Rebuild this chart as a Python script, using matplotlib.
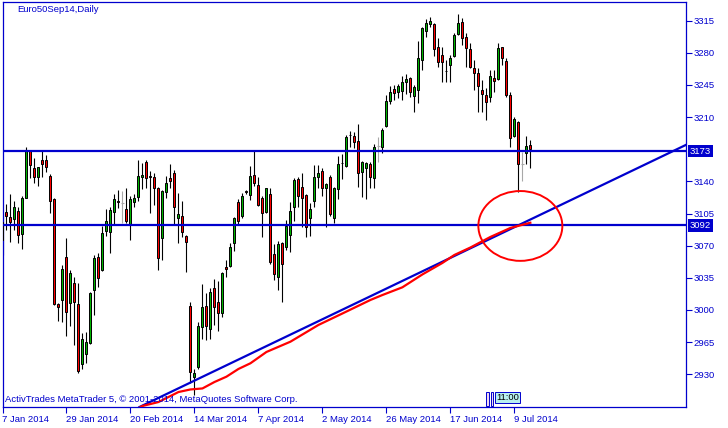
import matplotlib
matplotlib.use('Agg')
import matplotlib.pyplot as plt
import matplotlib.transforms as mtransforms
from matplotlib.patches import Ellipse, Rectangle

plt.rcParams['font.family'] = ['Liberation Sans', 'DejaVu Sans']

# daily OHLC, Euro50 Sep14
opens = [3095.8, 3107.0, 3100.9, 3098.7, 3107.8, 3082.4, 3122.3, 3173.1, 3154.3, 3145.1,
         3163.3, 3163.3, 3145.9, 3120.8, 3006.9, 3011.2, 3057.4, 3007.3, 3029.9, 3006.3,
         2940.9, 2952.1, 2963.7, 3021.8, 3057.4, 3043.6, 3086.3, 3085.2, 3107.0, 3118.3,
         3116.2, 3110.3, 3093.3, 3117.9, 3123.4, 3144.8, 3160.8, 3145.5, 3145.1, 3132.5,
         3078.1, 3128.1, 3143.4, 3148.8, 3099.8, 3102.3, 3080.2, 3004.4, 2927.4, 2937.6,
         2981.8, 3004.4, 2979.0, 3023.6, 3009.0, 2997.1, 3046.5, 3048.2, 3073.3, 3117.9,
         3102.3, 3129.6, 3125.2, 3147.0, 3136.1, 3121.6, 3106.4, 3126.0, 3061.0, 3035.6,
         3072.6, 3068.9, 3081.3, 3111.8, 3142.3, 3134.2, 3124.9, 3099.8, 3118.3, 3145.1,
         3151.3, 3132.5, 3144.5, 3099.8, 3131.4, 3160.0, 3156.8, 3190.5, 3189.1, 3184.3,
         3149.9, 3154.3, 3158.6, 3143.4, 3178.5, 3177.1, 3200.7, 3227.9, 3240.6, 3237.7,
         3238.8, 3247.9, 3252.3, 3233.3, 3239.5, 3272.2, 3304.1, 3311.4, 3311.0, 3286.0,
         3277.6, 3260.5, 3266.7, 3276.5, 3300.5, 3313.9, 3296.9, 3283.8, 3263.1, 3257.7,
         3239.5, 3234.1, 3232.2, 3252.3, 3251.2, 3286.0, 3271.1, 3234.1, 3189.4, 3205.0,
         3158.6, 3170.6, 3179.6]
highs = [3105.3, 3115.4, 3126.3, 3118.7, 3111.8, 3124.1, 3177.8, 3174.2, 3165.2, 3156.0,
         3173.1, 3168.8, 3148.1, 3121.9, 3008.0, 3049.0, 3078.7, 3043.6, 3036.3, 3029.1,
         2974.6, 2976.4, 3019.9, 3059.9, 3061.7, 3091.5, 3110.0, 3111.8, 3126.0, 3130.6,
         3129.6, 3132.5, 3124.1, 3126.0, 3163.3, 3160.4, 3163.3, 3151.3, 3149.5, 3134.0,
         3130.6, 3145.9, 3159.0, 3152.4, 3127.7, 3118.7, 3081.7, 3008.4, 2935.4, 2987.3,
         3028.3, 3018.2, 3023.6, 3033.8, 3031.6, 3041.7, 3054.4, 3072.6, 3101.6, 3120.5,
         3127.7, 3130.6, 3156.8, 3174.2, 3145.1, 3124.1, 3133.2, 3132.5, 3071.9, 3075.1,
         3074.4, 3098.0, 3117.3, 3143.4, 3144.5, 3149.5, 3126.3, 3116.2, 3157.9, 3157.9,
         3154.3, 3138.6, 3147.0, 3134.2, 3167.7, 3169.8, 3190.5, 3195.2, 3194.3, 3202.5,
         3162.2, 3161.5, 3161.5, 3180.7, 3188.7, 3197.8, 3234.1, 3243.9, 3245.0, 3246.0,
         3254.8, 3256.9, 3253.7, 3245.0, 3293.2, 3307.8, 3316.5, 3319.3, 3312.8, 3295.8,
         3286.7, 3272.2, 3277.6, 3301.2, 3322.3, 3317.6, 3301.2, 3290.4, 3272.2, 3263.1,
         3250.4, 3241.4, 3261.3, 3261.3, 3291.0, 3286.7, 3274.0, 3237.7, 3210.4, 3206.1,
         3172.3, 3189.4, 3185.1]
lows = [3059.9, 3087.1, 3074.4, 3087.1, 3072.6, 3066.1, 3121.6, 3144.0, 3137.9, 3135.3,
        3145.1, 3150.6, 3105.3, 3005.4, 2988.4, 2986.9, 2971.4, 2982.6, 2961.9, 2931.1,
        2935.4, 2942.0, 2963.0, 2994.6, 3025.4, 3042.8, 3080.6, 3062.4, 3093.3, 3111.4,
        3095.0, 3095.0, 3076.2, 3112.5, 3118.7, 3131.4, 3133.2, 3105.3, 3114.3, 3043.6,
        3054.4, 3122.3, 3132.5, 3092.5, 3072.6, 3079.8, 3041.7, 2920.2, 2907.5, 2935.4,
        2968.1, 2967.3, 2968.1, 2983.7, 2977.1, 2992.7, 3035.6, 3047.1, 3064.6, 3093.6,
        3099.8, 3126.3, 3119.8, 3135.0, 3113.2, 3079.2, 3105.6, 3050.1, 3032.7, 3021.8,
        3009.0, 3065.3, 3062.8, 3097.2, 3111.8, 3090.7, 3079.8, 3080.9, 3112.5, 3132.5,
        3124.1, 3090.0, 3102.3, 3095.0, 3120.5, 3142.3, 3155.4, 3177.1, 3176.0, 3134.2,
        3123.4, 3120.5, 3132.5, 3132.5, 3161.5, 3170.6, 3198.9, 3223.9, 3228.6, 3231.1,
        3228.6, 3235.2, 3231.6, 3215.9, 3225.0, 3261.3, 3296.9, 3307.8, 3276.5, 3264.2,
        3248.6, 3248.6, 3248.6, 3275.7, 3299.4, 3288.5, 3264.9, 3263.1, 3239.5, 3215.9,
        3215.9, 3206.9, 3226.8, 3237.7, 3250.4, 3266.7, 3232.2, 3177.8, 3188.7, 3128.8,
        3140.8, 3159.0, 3154.3]
closes = [3076.2, 3102.7, 3095.5, 3111.8, 3081.7, 3121.6, 3173.4, 3157.5, 3145.1, 3155.7,
          3158.6, 3156.0, 3119.0, 3006.9, 3003.6, 3044.3, 2998.2, 3040.0, 3008.2, 2933.9,
          2968.1, 2965.5, 3018.2, 3056.3, 3034.5, 3083.5, 3096.9, 3108.5, 3120.5, 3117.6,
          3116.2, 3097.2, 3120.5, 3121.6, 3146.2, 3147.0, 3143.4, 3145.0, 3132.5, 3056.3,
          3129.6, 3137.9, 3140.8, 3111.8, 3104.2, 3084.6, 3073.7, 2932.8, 2931.1, 2982.6,
          3002.9, 2982.6, 3019.3, 3002.9, 2996.4, 3040.0, 3044.3, 3068.9, 3099.8, 3097.2,
          3124.1, 3129.0, 3145.9, 3137.9, 3114.3, 3105.3, 3132.5, 3051.9, 3038.9, 3071.9,
          3049.8, 3091.5, 3107.8, 3141.5, 3124.1, 3121.6, 3090.7, 3109.6, 3145.1, 3148.8,
          3133.2, 3136.9, 3104.5, 3133.2, 3159.0, 3159.7, 3188.0, 3190.0, 3183.2, 3148.8,
          3160.8, 3159.7, 3145.1, 3177.8, 3178.5, 3196.0, 3227.9, 3237.7, 3235.9, 3244.2,
          3248.6, 3251.5, 3237.0, 3242.5, 3274.0, 3306.7, 3312.1, 3314.3, 3283.8, 3270.3,
          3270.3, 3260.7, 3274.0, 3299.4, 3312.1, 3295.8, 3284.9, 3264.2, 3258.4, 3244.2,
          3235.2, 3226.1, 3254.8, 3249.6, 3284.9, 3274.0, 3234.1, 3186.9, 3207.6, 3159.0,
          3158.6, 3178.5, 3175.3]
grey_bars = [30, 94, 130]

date_pos = [0, 16, 32, 48, 64, 80, 96, 112, 128]
date_labels = ['7 Jan 2014', '29 Jan 2014', '20 Feb 2014', '14 Mar 2014', '7 Apr 2014',
               '2 May 2014', '26 May 2014', '17 Jun 2014', '9 Jul 2014']
price_ticks = [2930, 2965, 3000, 3035, 3070, 3105, 3140, 3210, 3245, 3280, 3315]

levels = [3173, 3092]
trend_a = (34.4, 2894.7)
trend_b = (170.85, 3179.6)

red_x = [34, 35, 39, 44, 47, 50, 53, 56, 59, 62, 66, 72, 79, 85, 92, 95, 100, 105, 110,
         113, 117, 122, 127, 132]
red_y = [2893.0, 2895.5, 2899.8, 2910.7, 2913.5, 2914.6, 2921.6, 2927.4, 2935.8, 2942.0,
         2954.3, 2965.5, 2983.7, 2996.2, 3010.9, 3016.3, 3024.7, 3038.7, 3051.2, 3059.9,
         3068.0, 3079.5, 3089.3, 3095.0]

circle_center = (129.5, 3091.5)
circle_w, circle_h = 21, 76

blue = '#0000CD'
up_col = '#00B400'
down_col = '#FF0000'

fig = plt.figure(figsize=(7.28, 4.28), dpi=100)
ax = fig.add_axes([2.5 / 728, 1 - 407 / 428, 683.2 / 728, 405 / 428])

for i in range(len(opens)):
    o, h, l, c = opens[i], highs[i], lows[i], closes[i]
    if i in grey_bars:
        ax.vlines(i, l, h, color='#A8A8A8', lw=0.8, zorder=2)
        ax.hlines(c, i - 0.35, i + 0.35, color='#A8A8A8', lw=0.8, zorder=2)
        continue
    ax.vlines(i, l, h, color='black', lw=0.8, zorder=2)
    col = up_col if c >= o else down_col
    ax.bar(i, max(abs(c - o), 0.2), bottom=min(o, c), width=0.5, color=col,
           edgecolor='black', lw=0.7, zorder=3)

for lv in levels:
    ax.axhline(lv, color=blue, lw=1.6, zorder=4)
ax.axline(trend_a, trend_b, color=blue, lw=1.6, zorder=4)
ax.plot(red_x, red_y, color='red', lw=1.6, zorder=5)
ax.add_patch(Ellipse(circle_center, circle_w, circle_h, fill=False, edgecolor='red',
                     lw=1.4, zorder=6))

ax.set_xlim(0.05, 170.85)
ax.set_ylim(2894.4, 3335.3)

for s in ax.spines.values():
    s.set_color(blue)
    s.set_linewidth(0.9)

ax.yaxis.tick_right()
ax.set_yticks(price_ticks)
ax.set_yticklabels([str(p) for p in price_ticks])
ax.tick_params(axis='y', direction='out', length=4, width=0.8, pad=1.5, colors=blue,
               labelsize=6.8)
ax.set_xticks(date_pos)
ax.set_xticklabels(date_labels, ha='left')
ax.tick_params(axis='x', direction='out', length=4, width=0.8, pad=2, colors=blue,
               labelsize=6.8)

trans = mtransforms.blended_transform_factory(ax.transAxes, ax.transData)
for lv in levels:
    ax.text(1.006, lv, str(lv), transform=trans, ha='left', va='center', color='white',
            fontsize=6.8, bbox=dict(boxstyle='square,pad=0.2', fc=blue, ec='none'),
            clip_on=False)

fig.text(17 / 728, 1 - 10 / 428, 'Euro50Sep14,Daily', color=blue, fontsize=6.8,
         ha='left', va='center')
ax.text(5 / 728, 1 - 399.5 / 428, 'ActivTrades MetaTrader 5, \u00a9 2001-2014, MetaQuotes Software Corp.',
        transform=fig.transFigure, color=blue, fontsize=6.8, ha='left', va='center', zorder=7)

# scroll markers and time label at the bottom
for x0 in (486.5, 490.5):
    fig.patches.append(Rectangle((x0 / 728, 1 - 406 / 428), 2.5 / 728, 14 / 428,
                                 transform=fig.transFigure, fill=True, fc='#F0D8F0',
                                 ec=blue, lw=0.7))
fig.text(496 / 728, 1 - 397.5 / 428, '11:00', color='black', fontsize=6.8, ha='left',
         va='center', bbox=dict(boxstyle='square,pad=0.15', fc='#B8F0F0', ec=blue, lw=0.7))

fig.savefig('out.png', dpi=100)
